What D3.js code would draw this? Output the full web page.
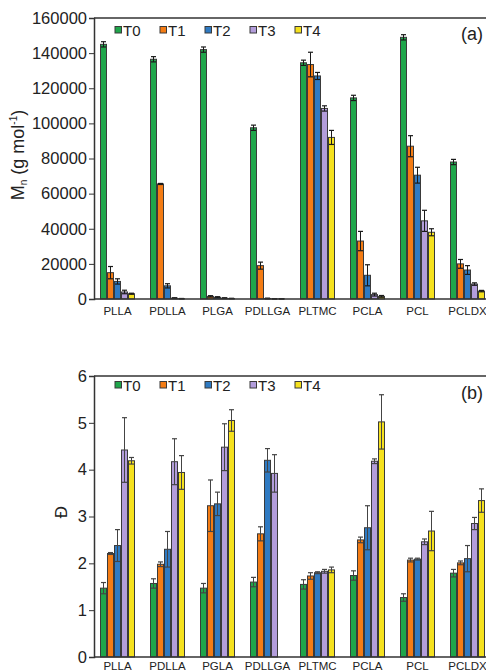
<!DOCTYPE html>
<html>
<head>
<meta charset="utf-8">
<script src="https://cdn.jsdelivr.net/npm/d3@7"></script>
<style>
  body { margin: 0; background: #fff; }
  svg { font-family: "Liberation Sans", Arial, sans-serif; }
</style>
</head>
<body>
<svg id="chart" width="486" height="672"></svg>
<script>
// data
const topCats = ["PLLA", "PDLLA", "PLGA", "PDLLGA", "PLTMC", "PCLA", "PCL", "PCLDX"];
const botCats = ["PLLA", "PDLLA", "PGLA", "PDLLGA", "PLTMC", "PCLA", "PCL", "PCLDX"];
const series = ["T0", "T1", "T2", "T3", "T4"];
const colors = ["#1fa64b", "#f47c14", "#2f7ac2", "#b39ddb", "#f5e11e"];

// Mn (g/mol), one row per category, one column per T
const mnVals = [
  [145000, 15000, 10000, 4000, 3000],
  [136500, 65500, 7500, 500, 200],
  [142000, 1500, 1000, 500, 300],
  [97500, 19000, 300, 100, 100],
  [134500, 133500, 127000, 108500, 92000],
  [114500, 33000, 13500, 2500, 1500],
  [149000, 87000, 70500, 44500, 38000],
  [78000, 20000, 16500, 8500, 4500]
];
const mnErr = [
  [1500, 3500, 1500, 1000, 300],
  [1500, 300, 1200, 200, 100],
  [1500, 400, 300, 200, 100],
  [1500, 2000, 200, 100, 100],
  [1500, 7000, 2000, 1500, 4000],
  [1500, 5500, 6000, 800, 500],
  [1500, 6000, 4500, 6000, 2000],
  [1500, 2500, 2500, 700, 400]
];
// dispersity
const dVals = [
  [1.47, 2.21, 2.38, 4.42, 4.19],
  [1.57, 1.98, 2.3, 4.17, 3.94],
  [1.47, 3.23, 3.27, 4.48, 5.05],
  [1.6, 2.63, 4.2, 3.92, null],
  [1.55, 1.73, 1.8, 1.83, 1.86],
  [1.74, 2.5, 2.76, 4.18, 5.02],
  [1.27, 2.07, 2.09, 2.46, 2.69],
  [1.79, 2.01, 2.1, 2.85, 3.34]
];
const dErr = [
  [0.12, 0.02, 0.34, 0.69, 0.07],
  [0.1, 0.05, 0.38, 0.49, 0.36],
  [0.1, 0.55, 0.25, 0.5, 0.23],
  [0.1, 0.15, 0.25, 0.4, null],
  [0.1, 0.07, 0.02, 0.04, 0.06],
  [0.1, 0.06, 0.47, 0.05, 0.58],
  [0.08, 0.04, 0.02, 0.06, 0.42],
  [0.08, 0.04, 0.28, 0.13, 0.25]
];
const mnTicks = [0, 20000, 40000, 60000, 80000, 100000, 120000, 140000, 160000];
const dTicks = [0, 1, 2, 3, 4, 5, 6];

const svg = d3.select("#chart");
const axisLeft = 94;
const rightEdge = 486;

const x = d3.scaleBand().domain(d3.range(8)).range([92.5, 492.5])
  .paddingInner(0.3).paddingOuter(0.15);
const xs = d3.scaleBand().domain(series).range([0, x.bandwidth()]);

function panel(opts) {
  const y = d3.scaleLinear().domain(opts.domain).range([opts.bottom, opts.top]);
  const g = svg.append("g");

  // bars
  opts.vals.forEach(function(row, i) {
    row.forEach(function(v, j) {
      if (v == null) return;
      const bx = x(i) + xs(series[j]);
      g.append("rect")
        .attr("x", bx + 0.5)
        .attr("y", y(v))
        .attr("width", xs.bandwidth() - 1)
        .attr("height", opts.bottom - y(v))
        .attr("fill", colors[j])
        .attr("stroke", "#3a3a3a")
        .attr("stroke-width", 1);
    });
  });

  // error bars
  opts.vals.forEach(function(row, i) {
    row.forEach(function(v, j) {
      const e = opts.err[i][j];
      if (v == null || e == null) return;
      const cx = x(i) + xs(series[j]) + xs.bandwidth() / 2;
      const y1 = y(v + e), y0 = y(Math.max(0, v - e));
      g.append("line").attr("x1", cx).attr("x2", cx).attr("y1", y1).attr("y2", y0)
        .attr("stroke", opts.errColor).attr("stroke-width", 1);
      [y1, y0].forEach(function(yy) {
        g.append("line").attr("x1", cx - 2.5).attr("x2", cx + 2.5).attr("y1", yy).attr("y2", yy)
          .attr("stroke", opts.errColor).attr("stroke-width", 1.2);
      });
    });
  });

  // frame lines
  g.append("line").attr("x1", axisLeft).attr("x2", rightEdge)
    .attr("y1", opts.top).attr("y2", opts.top)
    .attr("stroke", "#333").attr("stroke-width", 1.5);
  g.append("line").attr("x1", axisLeft).attr("x2", rightEdge)
    .attr("y1", opts.bottom).attr("y2", opts.bottom)
    .attr("stroke", "#333").attr("stroke-width", 1.5);

  // y axis
  const ax = g.append("g").attr("transform", "translate(" + axisLeft + ",0)")
    .call(d3.axisLeft(y).tickValues(opts.ticks).tickSize(5).tickPadding(2).tickFormat(d3.format("d")));
  ax.select(".domain").attr("stroke", "#333").attr("stroke-width", 1.5);
  ax.selectAll(".tick line").attr("stroke", "#333");
  ax.selectAll(".tick text").attr("font-size", 16.5).attr("fill", "#222")
    .attr("font-family", "Liberation Sans, Arial, sans-serif");

  // category labels
  opts.cats.forEach(function(c, i) {
    g.append("text")
      .attr("x", x(i) + x.bandwidth() / 2)
      .attr("y", opts.bottom + opts.labelGap)
      .attr("text-anchor", "middle")
      .attr("font-size", 11.5)
      .attr("fill", "#222")
      .text(c);
  });

  // legend
  series.forEach(function(s, j) {
    const lx = 115 + j * 45;
    g.append("rect").attr("x", lx).attr("y", opts.legendY - 3.5)
      .attr("width", 6.5).attr("height", 6.5)
      .attr("fill", colors[j]).attr("stroke", "#3a3a3a").attr("stroke-width", 1);
    g.append("text").attr("x", lx + 8).attr("y", opts.legendY + 5.5)
      .attr("font-size", 15).attr("fill", "#222").text(s);
  });

  // panel tag
  g.append("text").attr("x", 483).attr("y", opts.tagY)
    .attr("text-anchor", "end").attr("font-size", 18).attr("fill", "#222").text(opts.tag);

  return g;
}

panel({
  domain: [0, 160000], top: 18, bottom: 299,
  vals: mnVals, err: mnErr, ticks: mnTicks, cats: topCats,
  errColor: "#1a1a1a", legendY: 30, tag: "(a)", tagY: 40, labelGap: 16
});

panel({
  domain: [0, 6], top: 376, bottom: 657,
  vals: dVals, err: dErr, ticks: dTicks, cats: botCats,
  errColor: "#444", legendY: 385, tag: "(b)", tagY: 399, labelGap: 13
});

// y titles
const t1 = svg.append("text")
  .attr("transform", "translate(24,155) rotate(-90)")
  .attr("text-anchor", "middle")
  .attr("font-size", 18)
  .attr("fill", "#222");
t1.append("tspan").text("M");
t1.append("tspan").attr("font-size", 10).attr("dy", 3).text("n");
t1.append("tspan").attr("dy", -3).text(" (g mol");
t1.append("tspan").attr("font-size", 10).attr("dy", -7).text("-1");
t1.append("tspan").attr("dy", 7).text(")");

svg.append("text")
  .attr("transform", "translate(67,512) rotate(-90)")
  .attr("text-anchor", "middle")
  .attr("font-size", 17)
  .attr("fill", "#222")
  .text("Đ");
</script>
</body>
</html>
